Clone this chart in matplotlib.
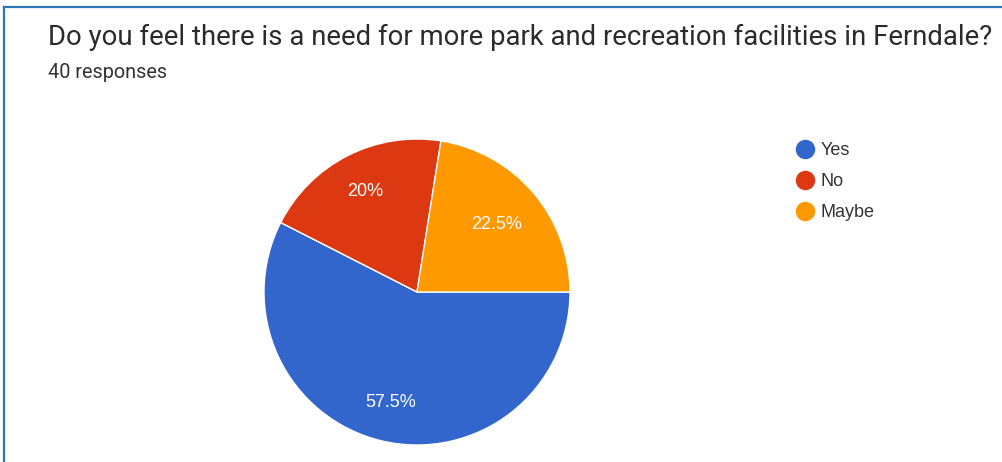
import matplotlib
matplotlib.use("Agg")
import matplotlib.pyplot as plt
from matplotlib.lines import Line2D

# Survey data
title = "Do you feel there is a need for more park and recreation facilities in Ferndale?"
subtitle = "40 responses"
categories = ["Yes", "No", "Maybe"]
shares = [57.5, 20.0, 22.5]
colors = ["#3366CC", "#DC3912", "#FF9900"]

W, H = 1003, 462
fig = plt.figure(figsize=(W / 100, H / 100), dpi=100)
fig.patch.set_facecolor("white")


def px(x, y_from_top):
    return x / W, 1 - y_from_top / H


# card border (left and top edges)
border = "#2E75B6"
fig.add_artist(Line2D([4 / W, 4 / W], [0, 1 - 6.5 / H], color=border, lw=1.6,
                      transform=fig.transFigure))
fig.add_artist(Line2D([4 / W, 1], [1 - 6.5 / H, 1 - 6.5 / H], color=border, lw=1.6,
                      transform=fig.transFigure))


def fitted_text(x, y, s, width, size, **kw):
    t = fig.text(*px(x, y), s, fontsize=size, va="baseline", ha="left", **kw)
    fig.canvas.draw()
    t.set_fontsize(size * width / t.get_window_extent().width)
    return t


fitted_text(48, 45, title, 944, 16, family="Roboto", color="#2b2b2b")
fitted_text(48, 78, subtitle, 119, 11, family="Roboto", color="#333333")

# pie
cx, cy, r = 417, 292, 153
ax = fig.add_axes([(cx - r) / W, (H - cy - r) / H, 2 * r / W, 2 * r / H])
wedges, _, autotexts = ax.pie(
    shares, colors=colors, startangle=0, counterclock=False,
    autopct=lambda p: f"{p:.1f}%".replace(".0%", "%"),
    pctdistance=0.74,
    wedgeprops=dict(edgecolor="white", linewidth=1.0),
    textprops=dict(color="white", fontsize=13, family="Liberation Sans"),
)
autotexts[2].set_position((0.68 * 0.7604, 0.68 * 0.6494))
ax.set_xlim(-1, 1)
ax.set_ylim(-1, 1)
ax.set_aspect("equal")
ax.axis("off")

# legend with round markers
handles = [Line2D([], [], marker="o", ls="none", markersize=13,
                  markerfacecolor=c, markeredgecolor=c) for c in colors]
leg = fig.legend(handles, categories, loc="upper left",
                 bbox_to_anchor=px(796, 142), frameon=False,
                 handlelength=1.0, handletextpad=0.35, labelspacing=0.78,
                 borderaxespad=0, borderpad=0,
                 prop=dict(family="Liberation Sans", size=13))
for txt in leg.get_texts():
    txt.set_color("#333333")

fig.savefig("out.png", dpi=100, facecolor="white")
